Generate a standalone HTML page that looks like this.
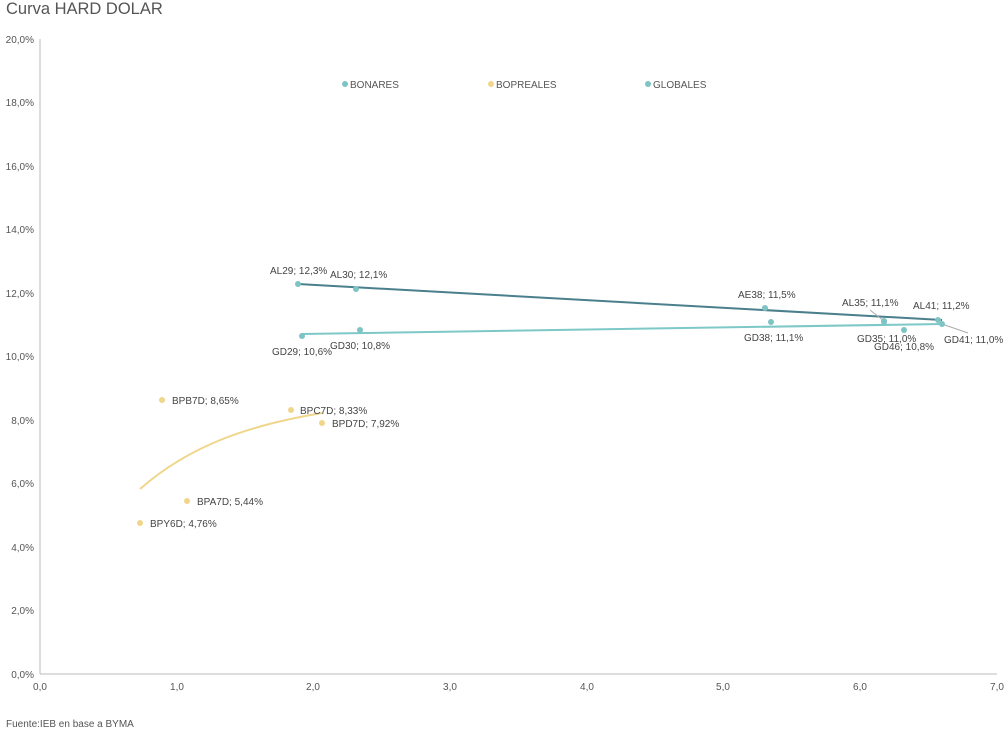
<!DOCTYPE html>
<html><head><meta charset="utf-8"><style>
body{margin:0;background:#fff;width:1007px;height:730px;overflow:hidden}
svg{font-family:"Liberation Sans",sans-serif}
</style></head><body>
<svg width="1007" height="730" viewBox="0 0 1007 730">
<text x="6" y="14" font-size="16.5" fill="#555">Curva HARD DOLAR</text>
<g font-size="10" fill="#555" text-anchor="end">
<text x="34" y="43">20,0%</text><text x="34" y="106">18,0%</text><text x="34" y="170">16,0%</text>
<text x="34" y="233">14,0%</text><text x="34" y="297">12,0%</text><text x="34" y="360">10,0%</text>
<text x="34" y="424">8,0%</text><text x="34" y="487">6,0%</text><text x="34" y="551">4,0%</text>
<text x="34" y="614">2,0%</text><text x="34" y="678">0,0%</text>
</g>
<g font-size="10" fill="#555" text-anchor="middle">
<text x="40" y="690">0,0</text><text x="177" y="690">1,0</text><text x="313" y="690">2,0</text>
<text x="450" y="690">3,0</text><text x="587" y="690">4,0</text><text x="723" y="690">5,0</text>
<text x="860" y="690">6,0</text><text x="997" y="690">7,0</text>
</g>
<line x1="40" y1="39" x2="40" y2="674" stroke="#bbb"/>
<line x1="40" y1="674" x2="997" y2="674" stroke="#bbb"/>
<text x="6" y="727" font-size="10" fill="#555">Fuente:IEB en base a BYMA</text>
<g font-size="10" fill="#555">
<circle cx="345" cy="84" r="3" fill="#7ec4c4"/><text x="350" y="88">BONARES</text>
<circle cx="491" cy="84" r="3" fill="#f0d68a"/><text x="496" y="88">BOPREALES</text>
<circle cx="648" cy="84" r="3" fill="#7ec4c4"/><text x="653" y="88">GLOBALES</text>
</g>
<polyline points="298,284 942,320" fill="none" stroke="#4a7f8c" stroke-width="2"/>
<polyline points="302,334 942,324" fill="none" stroke="#7ec8c8" stroke-width="2"/>
<path d="M140,489 C190,445 250,425 322,413" fill="none" stroke="#f0d68a" stroke-width="2"/>
<line x1="870" y1="310" x2="884" y2="321" stroke="#aaa"/>
<line x1="942" y1="324" x2="968" y2="333" stroke="#aaa"/>
<g fill="#7ec4c4">
<circle cx="298" cy="284" r="3"/><circle cx="356" cy="289" r="3"/><circle cx="765" cy="308" r="3"/>
<circle cx="884" cy="321" r="3"/><circle cx="938" cy="320" r="3"/>
<circle cx="302" cy="336" r="3"/><circle cx="360" cy="330" r="3"/><circle cx="771" cy="322" r="3"/>
<circle cx="884" cy="322" r="3"/><circle cx="904" cy="330" r="3"/><circle cx="942" cy="324" r="3"/>
</g>
<g fill="#f0d68a">
<circle cx="162" cy="400" r="3"/><circle cx="291" cy="410" r="3"/><circle cx="322" cy="423" r="3"/>
<circle cx="187" cy="501" r="3"/><circle cx="140" cy="523" r="3"/>
</g>
<g font-size="10" fill="#444">
<text x="270" y="274">AL29; 12,3%</text><text x="330" y="278">AL30; 12,1%</text>
<text x="738" y="298">AE38; 11,5%</text><text x="842" y="306">AL35; 11,1%</text><text x="913" y="309">AL41; 11,2%</text>
<text x="272" y="355">GD29; 10,6%</text><text x="330" y="349">GD30; 10,8%</text>
<text x="744" y="341">GD38; 11,1%</text><text x="857" y="342">GD35; 11,0%</text><text x="874" y="350">GD46; 10,8%</text>
<text x="944" y="343">GD41; 11,0%</text>
<text x="172" y="404">BPB7D; 8,65%</text><text x="300" y="414">BPC7D; 8,33%</text><text x="332" y="427">BPD7D; 7,92%</text>
<text x="197" y="505">BPA7D; 5,44%</text><text x="150" y="527">BPY6D; 4,76%</text>
</g>
</svg>
</body></html>
